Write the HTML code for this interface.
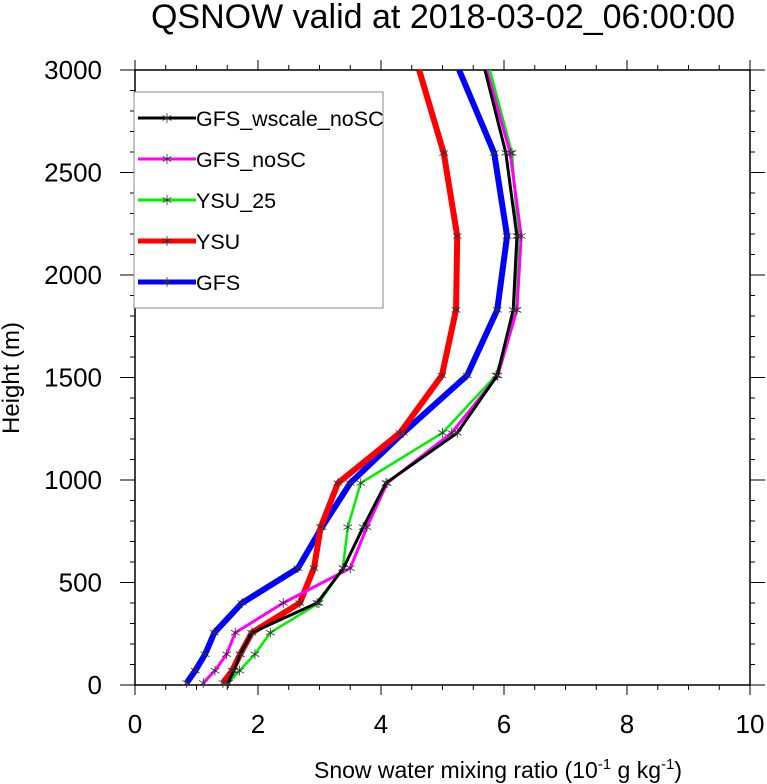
<!DOCTYPE html>
<html><head><meta charset="utf-8"><style>
body{margin:0;background:#fff}
svg{display:block;font-family:"Liberation Sans",sans-serif}
</style></head><body>
<svg id="chart" width="767" height="784" viewBox="0 0 767 784">
<text x="443" y="28" text-anchor="middle" font-size="34">QSNOW valid at 2018-03-02_06:00:00</text>
<g id="axes"></g>
<g id="series"></g>
<g id="legend"></g>
<text x="498" y="778" text-anchor="middle" font-size="23">Snow water mixing ratio (10<tspan font-size="15" dy="-9">-1</tspan><tspan dy="9"> g kg</tspan><tspan font-size="15" dy="-9">-1</tspan><tspan dy="9">)</tspan></text>
<text transform="translate(19,378) rotate(-90)" text-anchor="middle" font-size="24">Height (m)</text>
</svg>
<script>
const heights=[3000,2595,2190,1830,1510,1230,985,770,570,400,255,150,70,10];
const seriesNames=["GFS_wscale_noSC","GFS_noSC","YSU_25","YSU","GFS"];
const gfsWscaleNoSC=[5.69,6.03,6.21,6.15,5.89,5.24,4.08,3.71,3.39,2.96,1.90,1.71,1.61,1.51];
const gfsNoSC=[5.72,6.10,6.28,6.21,5.90,5.15,4.10,3.77,3.50,2.41,1.63,1.49,1.30,1.11];
const ysu25=[5.77,6.13,6.23,6.20,5.87,5.00,3.67,3.46,3.38,2.99,2.20,1.95,1.70,1.52];
const ysu=[4.62,5.02,5.24,5.22,4.99,4.31,3.30,3.02,2.91,2.68,1.90,1.71,1.58,1.43];
const gfs=[5.27,5.84,6.05,5.89,5.40,4.36,3.50,3.04,2.65,1.74,1.29,1.14,0.98,0.84];
const xTicks=[0,2,4,6,8,10];
const yTicks=[0,500,1000,1500,2000,2500,3000];
const colors=["#000","#ff00ff","#00ee00","#ff0000","#0000ff"];
const widths=[3,3,2.5,6,6];
const L=135,R=750,T=70,B=685;
const X=v=>L+(v-0)/(10-0)*(R-L);
const Y=v=>B-(v-0)/(3000-0)*(B-T);
const NS="http://www.w3.org/2000/svg";
function mk(tag,attrs,parent){const e=document.createElementNS(NS,tag);for(const k in attrs)e.setAttribute(k,attrs[k]);parent.appendChild(e);return e;}
const axes=document.getElementById('axes');
const frame=mk('rect',{x:L,y:T,width:R-L,height:B-T,fill:'none',stroke:'#000','stroke-width':1.5},axes);


for(let v=0;v<=10.001;v+=0.5){const maj=Math.abs(v/2-Math.round(v/2))<1e-6;const len=maj?10:5;
 const t1=mk('line',{x1:X(v),x2:X(v),y1:B,y2:B+len,stroke:'#000','stroke-width':1},axes);
 
 
 const t2=mk('line',{x1:X(v),x2:X(v),y1:T,y2:T-len,stroke:'#000','stroke-width':1},axes);
 
 }
for(let v=0;v<=3000;v+=100){const maj=v%500===0;const len=maj?15:5;
 const t1=mk('line',{x1:L,x2:L-len,y1:Y(v),y2:Y(v),stroke:'#000','stroke-width':1},axes);
 
 
 const t2=mk('line',{x1:R,x2:R+len,y1:Y(v),y2:Y(v),stroke:'#000','stroke-width':1},axes);
 
 }
xTicks.forEach(v=>{const t=mk('text',{x:X(v),y:733,'text-anchor':'middle','font-size':26},axes);t.textContent=v;
 
 });
yTicks.forEach(v=>{const t=mk('text',{x:102,y:Y(v)+9,'text-anchor':'end','font-size':26},axes);t.textContent=v;
 
 });
const all=[gfsWscaleNoSC,gfsNoSC,ysu25,ysu,gfs];
const sg=document.getElementById('series');
function star(g,cx,cy){for(let a=0;a<3;a++){const ang=a*Math.PI/3+Math.PI/2;const dx=5*Math.cos(ang),dy=5*Math.sin(ang);
 mk('line',{x1:cx-dx,y1:cy-dy,x2:cx+dx,y2:cy+dy,stroke:'#333','stroke-width':0.8},g);}}
for(let i=4;i>=0;i--){const d=all[i];
 const g=mk('g',{},sg);
 
 
 const pts=d.map((v,j)=>X(v)+','+Y(heights[j])).join(' ');
 const pl=mk('polyline',{points:pts,fill:'none',stroke:colors[i],'stroke-width':widths[i],'stroke-linejoin':'round'},g);
 
 
 d.forEach((v,j)=>{if(j>0)star(g,X(v),Y(heights[j]));});}
const lg=document.getElementById('legend');
const box=mk('rect',{x:134,y:92,width:249,height:216,fill:'#fff',stroke:'#888','stroke-width':1},lg);


seriesNames.forEach((n,i)=>{const y=118+i*41;const g=mk('g',{},lg);
 
 
 mk('line',{x1:138,x2:196,y1:y,y2:y,stroke:colors[i],'stroke-width':i>=3?5:3},g);
 star(g,167,y);
 const t=mk('text',{x:196,y:y+8,'font-size':21.5},g);t.textContent=n;});
</script>
</body></html>
